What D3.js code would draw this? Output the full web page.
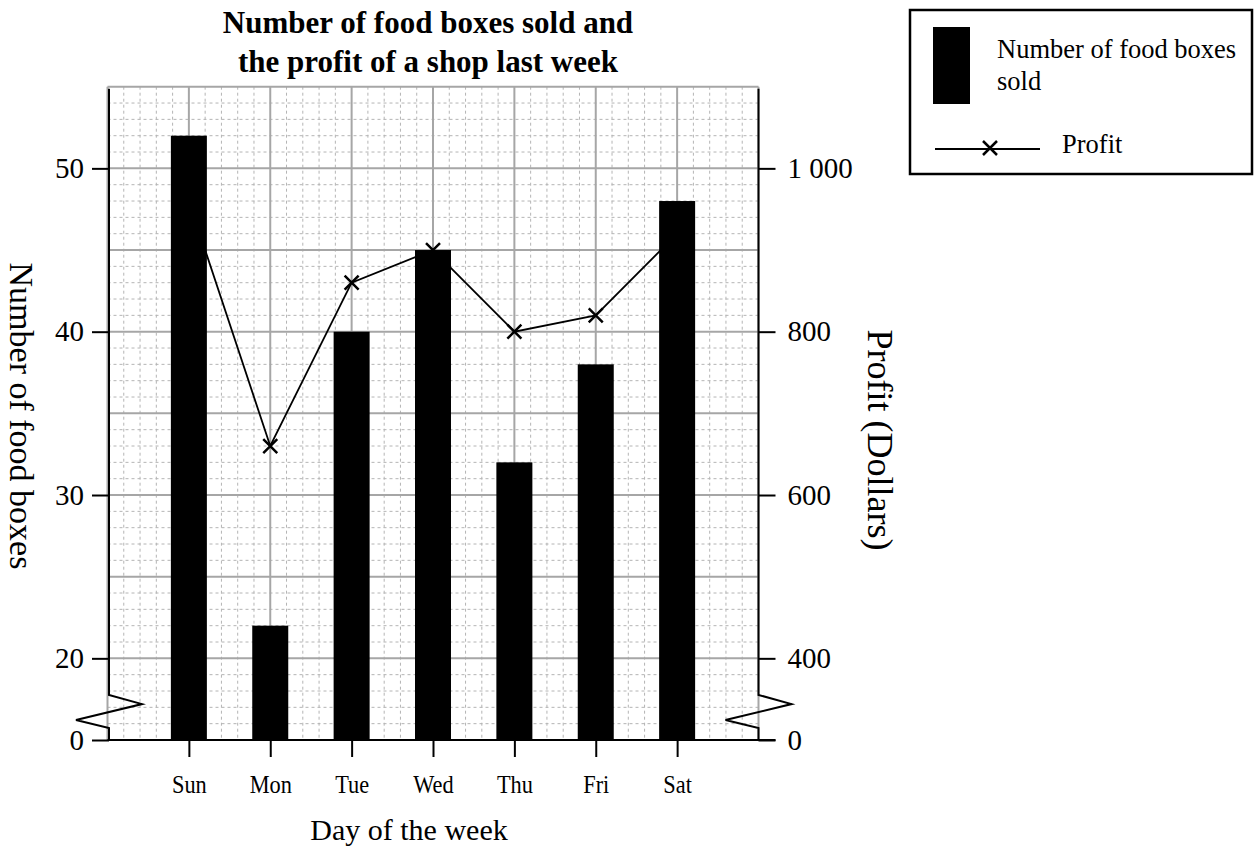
<!DOCTYPE html>
<html>
<head>
<meta charset="utf-8">
<script src="https://cdn.jsdelivr.net/npm/d3@7"></script>
<style>
  html, body { margin: 0; padding: 0; background: #ffffff; }
</style>
</head>
<body>
<svg id="chart" width="1260" height="854"></svg>
<script>
const days = ['Sun', 'Mon', 'Tue', 'Wed', 'Thu', 'Fri', 'Sat'];
const boxesSold = [52, 22, 40, 45, 32, 38, 48];
const profit = [960, 660, 860, 900, 800, 820, 920];

const leftTicks = [15, 20, 30, 40, 50];
const rightTicks = [300, 400, 600, 800, 1000];

const FONT = '"Liberation Serif", "Times New Roman", serif';
const X0 = 107.5;
const X1 = 758.5;
const Y_TOP = 86.7;
const Y_BOTTOM = 740;
const BAR_WIDTH = 36;
const TICK = 17;

const svg = d3.select('#chart');

const x = d3.scalePoint()
  .domain(days)
  .range([X0, X1])
  .padding(1);

const cell = d3.scaleLinear()
  .domain([0, 40])
  .range([X0, X1]);

const yLeft = d3.scaleLinear()
  .domain([15, 55])
  .range([Y_BOTTOM, Y_TOP]);

const yRight = d3.scaleLinear()
  .domain([300, 1100])
  .range([Y_BOTTOM, Y_TOP]);

// grid: minor dashed every cell, major solid every 5 cells
const grid = svg.append('g');

grid.selectAll('line.minor-h')
  .data(d3.range(16, 55).filter((v) => v % 5 !== 0))
  .join('line')
  .attr('x1', X0)
  .attr('x2', X1)
  .attr('y1', (d) => yLeft(d))
  .attr('y2', (d) => yLeft(d))
  .attr('stroke', '#b4b4b4')
  .attr('stroke-width', 1)
  .attr('stroke-dasharray', '3,3');

grid.selectAll('line.minor-v')
  .data(d3.range(1, 40).filter((v) => v % 5 !== 0))
  .join('line')
  .attr('x1', (d) => cell(d))
  .attr('x2', (d) => cell(d))
  .attr('y1', Y_TOP)
  .attr('y2', Y_BOTTOM)
  .attr('stroke', '#b4b4b4')
  .attr('stroke-width', 1)
  .attr('stroke-dasharray', '3,3');

grid.selectAll('line.major-h')
  .data(d3.range(15, 56, 5))
  .join('line')
  .attr('x1', X0)
  .attr('x2', X1)
  .attr('y1', (d) => yLeft(d))
  .attr('y2', (d) => yLeft(d))
  .attr('stroke', '#a6a6a6')
  .attr('stroke-width', 2);

grid.selectAll('line.major-v')
  .data(d3.range(0, 41, 5))
  .join('line')
  .attr('x1', (d) => cell(d))
  .attr('x2', (d) => cell(d))
  .attr('y1', Y_TOP)
  .attr('y2', Y_BOTTOM)
  .attr('stroke', '#a6a6a6')
  .attr('stroke-width', 2);

// profit line sits under the bars
const line = d3.line()
  .x((d, i) => x(days[i]))
  .y((d) => yRight(d));

svg.append('path')
  .datum(profit)
  .attr('d', line)
  .attr('fill', 'none')
  .attr('stroke', '#000000')
  .attr('stroke-width', 1.8);

svg.selectAll('path.mark')
  .data(profit)
  .join('path')
  .attr('transform', (d, i) => `translate(${x(days[i])},${yRight(d)})`)
  .attr('d', 'M-7,-7L7,7M-7,7L7,-7')
  .attr('stroke', '#000000')
  .attr('stroke-width', 2.5)
  .attr('fill', 'none');

svg.selectAll('rect.bar')
  .data(boxesSold)
  .join('rect')
  .attr('x', (d, i) => x(days[i]) - BAR_WIDTH / 2)
  .attr('y', (d) => yLeft(d))
  .attr('width', BAR_WIDTH)
  .attr('height', (d) => yLeft(15) - yLeft(d))
  .attr('fill', '#000000');

// axes
const leftAxis = svg.append('g')
  .attr('transform', `translate(${X0 + 1.5},0)`)
  .call(d3.axisLeft(yLeft)
    .tickValues(leftTicks)
    .tickFormat((d) => (d === 15 ? '0' : d))
    .tickSize(TICK)
    .tickPadding(8));

const rightAxis = svg.append('g')
  .attr('transform', `translate(${X1},0)`)
  .call(d3.axisRight(yRight)
    .tickValues(rightTicks)
    .tickFormat((d) => (d === 300 ? '0' : d3.format(',')(d).replace(',', ' ')))
    .tickSize(TICK)
    .tickPadding(12));

const bottomAxis = svg.append('g')
  .attr('transform', `translate(0,${Y_BOTTOM})`)
  .call(d3.axisBottom(x)
    .tickSize(TICK)
    .tickPadding(8));

[leftAxis, rightAxis, bottomAxis].forEach((axis) => {
  axis.select('.domain').remove();
  axis.selectAll('.tick line')
    .attr('stroke', '#000000')
    .attr('stroke-width', 2);
  axis.selectAll('text')
    .attr('fill', '#000000')
    .attr('font-family', FONT)
    .attr('font-size', 29);
});

bottomAxis.selectAll('text')
  .attr('font-size', 26)
  .attr('dy', null)
  .attr('y', 53)
  .attr('transform', 'scale(0.86,1)');

// axis lines with break zigzags
function drawAxisLine(ax) {
  const pts = [
    [ax, Y_TOP + 2],
    [ax, yLeft(17.76)],
    [ax + 33, yLeft(17.2)],
    [ax - 33, yLeft(16.22)],
    [ax, yLeft(15.73)],
    [ax, Y_BOTTOM]
  ];
  svg.append('path')
    .attr('d', d3.line()(pts))
    .attr('fill', 'none')
    .attr('stroke', '#000000')
    .attr('stroke-width', 2);
}

drawAxisLine(X0 + 1.5);
drawAxisLine(X1);

svg.append('line')
  .attr('x1', X0)
  .attr('x2', X1 + TICK)
  .attr('y1', Y_BOTTOM)
  .attr('y2', Y_BOTTOM)
  .attr('stroke', '#000000')
  .attr('stroke-width', 2);

// titles
const title = svg.append('text')
  .attr('text-anchor', 'middle')
  .attr('font-family', FONT)
  .attr('font-size', 31)
  .attr('font-weight', 700)
  .attr('fill', '#000000');

title.append('tspan').attr('x', 428).attr('y', 33).text('Number of food boxes sold and');
title.append('tspan').attr('x', 428).attr('y', 72).text('the profit of a shop last week');

svg.append('text')
  .attr('x', 409)
  .attr('y', 840)
  .attr('text-anchor', 'middle')
  .attr('font-family', FONT)
  .attr('font-size', 30)
  .attr('fill', '#000000')
  .text('Day of the week');

svg.append('text')
  .attr('transform', 'translate(10,416) rotate(90)')
  .attr('text-anchor', 'middle')
  .attr('font-family', FONT)
  .attr('font-size', 34)
  .attr('fill', '#000000')
  .text('Number of food boxes');

svg.append('text')
  .attr('transform', 'translate(868,440) rotate(90)')
  .attr('text-anchor', 'middle')
  .attr('font-family', FONT)
  .attr('font-size', 36)
  .attr('fill', '#000000')
  .text('Profit (Dollars)');

// legend
const legend = svg.append('g');

legend.append('rect')
  .attr('x', 910)
  .attr('y', 10)
  .attr('width', 342)
  .attr('height', 164)
  .attr('fill', '#ffffff')
  .attr('stroke', '#000000')
  .attr('stroke-width', 2.5);

legend.append('rect')
  .attr('x', 933)
  .attr('y', 27)
  .attr('width', 37)
  .attr('height', 77)
  .attr('fill', '#000000');

const legendText = legend.append('text')
  .attr('font-family', FONT)
  .attr('font-size', 26.5)
  .attr('fill', '#000000');

legendText.append('tspan').attr('x', 997).attr('y', 58).text('Number of food boxes');
legendText.append('tspan').attr('x', 997).attr('y', 90).text('sold');

legend.append('line')
  .attr('x1', 935)
  .attr('x2', 1040)
  .attr('y1', 149)
  .attr('y2', 149)
  .attr('stroke', '#000000')
  .attr('stroke-width', 1.8);

legend.append('path')
  .attr('transform', 'translate(990,148)')
  .attr('d', 'M-7,-7L7,7M-7,7L7,-7')
  .attr('stroke', '#000000')
  .attr('stroke-width', 2.5);

legend.append('text')
  .attr('x', 1062)
  .attr('y', 153)
  .attr('font-family', FONT)
  .attr('font-size', 26.5)
  .attr('fill', '#000000')
  .text('Profit');
</script>
</body>
</html>
